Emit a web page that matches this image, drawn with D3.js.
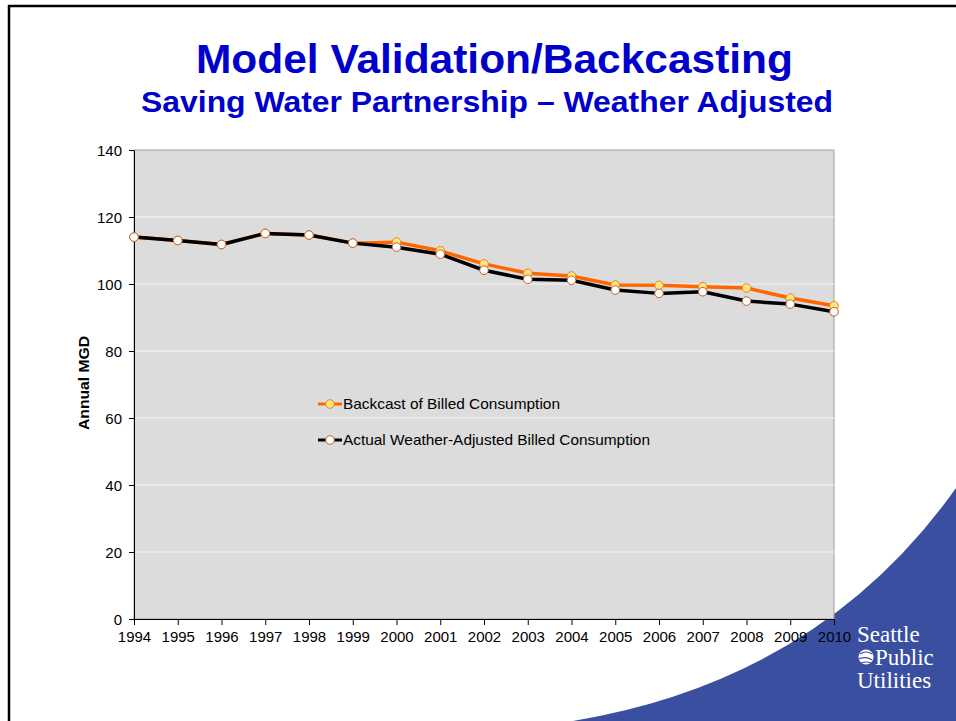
<!DOCTYPE html>
<html>
<head>
<meta charset="utf-8">
<style>
  body { margin: 0; background: #fff; }
  svg { display: block; }
</style>
</head>
<body>
<svg id="slide" width="956" height="721"></svg>

<script src="https://d3js.org/d3.v7.min.js"></script>
<script>
    var years = [1994, 1995, 1996, 1997, 1998, 1999, 2000, 2001, 2002, 2003, 2004, 2005, 2006, 2007, 2008, 2009, 2010]
    var backcast = [114.0, 113.0, 111.8, 115.1, 114.6, 112.2, 112.5, 109.9, 106.0, 103.2, 102.4, 99.7, 99.6, 99.2, 98.8, 95.8, 93.5]
    var actual = [114.0, 113.0, 111.8, 115.1, 114.6, 112.2, 111.0, 108.9, 104.1, 101.4, 101.1, 98.2, 97.2, 97.7, 94.9, 94.0, 91.7]
    var yTicks = [0, 20, 40, 60, 80, 100, 120, 140]
    var seriesNames = ["Backcast of Billed Consumption", "Actual Weather-Adjusted Billed Consumption"]

    var svg = d3.select("#slide")
    var plotLeft = 134, plotRight = 834, plotTop = 150, plotBottom = 619
    var font = "Arial, 'Liberation Sans', sans-serif"

    // slide frame and the blue swoosh
    svg.append("path")
        .attr("d", "M9,721 L9,6 L956,6")
        .attr("fill", "none").attr("stroke", "#000").attr("stroke-width", 2.5)

    svg.append("path")
        .attr("d", "M573,721 Q820,680 956,488 L956,721 Z")
        .attr("fill", "#3a4fa0")

    var logo = svg.append("g").attr("fill", "#fff")
        .style("font-family", "'Liberation Serif', 'DejaVu Serif', serif").style("font-size", "23px")
    logo.append("text").attr("x", 857).attr("y", 642).text("Seattle")
    logo.append("circle").attr("cx", 866).attr("cy", 657).attr("r", 7.5)
    logo.append("path").attr("d", "M860,654 q6,-4 12,0 M859,659 q7,-3 13,1 M861,663 q5,-2 10,0")
        .attr("stroke", "#3a4fa0").attr("fill", "none").attr("stroke-width", 1.2)
    logo.append("text").attr("x", 875).attr("y", 665).text("Public")
    logo.append("text").attr("x", 857).attr("y", 688).text("Utilities")

    // titles
    svg.append("text").attr("x", 196).attr("y", 73)
        .attr("textLength", 597).attr("lengthAdjust", "spacingAndGlyphs")
        .style("font-family", font).style("font-weight", "bold")
        .style("font-size", "41px").attr("fill", "#0000cc")
        .text("Model Validation/Backcasting")
    svg.append("text").attr("x", 141).attr("y", 112)
        .attr("textLength", 692).attr("lengthAdjust", "spacingAndGlyphs")
        .style("font-family", font).style("font-weight", "bold")
        .style("font-size", "30px").attr("fill", "#0000cc")
        .text("Saving Water Partnership \u2013 Weather Adjusted")

    var x = d3.scaleLinear().domain([1994, 2010]).range([plotLeft, plotRight])
    var y = d3.scaleLinear().domain([0, 140]).range([plotBottom, plotTop])

    svg.append("rect").attr("x", plotLeft).attr("y", plotTop)
        .attr("width", plotRight - plotLeft).attr("height", plotBottom - plotTop)
        .attr("fill", "#dcdcdc").attr("stroke", "#a0a0a0")

    svg.selectAll(".grid").data(yTicks.slice(1, -1)).enter().append("line")
        .attr("x1", plotLeft).attr("x2", plotRight)
        .attr("y1", function(d) { return y(d) }).attr("y2", function(d) { return y(d) })
        .attr("stroke", "#f4f4f4").attr("stroke-width", 1.2)

    var yAxis = svg.append("g").attr("transform", "translate(" + plotLeft + ",0)")
        .call(d3.axisLeft(y).tickValues(yTicks).tickSize(5).tickSizeOuter(0).tickPadding(7))
    var xAxis = svg.append("g").attr("transform", "translate(0," + plotBottom + ")")
        .call(d3.axisBottom(x).tickValues(years).tickFormat(d3.format("d")).tickSize(6).tickSizeOuter(0).tickPadding(6))

    svg.selectAll(".tick text")
        .style("font-family", font).style("font-size", "15px").attr("fill", "#000")
    svg.selectAll(".domain, .tick line").attr("stroke", "#000")
    yAxis.selectAll(".tick text").attr("dy", "0.35em")

    svg.append("text")
        .attr("transform", "translate(89,383) rotate(-90)")
        .attr("x", -47).attr("textLength", 94).attr("lengthAdjust", "spacingAndGlyphs")
        .style("font-family", font).style("font-weight", "bold").style("font-size", "14px")
        .text("Annual MGD")

    var line = d3.line()
        .x(function(d, i) { return x(years[i]) })
        .y(function(d) { return y(d) })

    var series = [
        { values: backcast, color: "#ff6600", fill: "#ffe680", stroke: "#f08020", width: 217 },
        { values: actual, color: "#000", fill: "#fff", stroke: "#c0602a", width: 307 }
    ]

    series.forEach(function(s) {
        svg.append("path").datum(s.values)
            .attr("d", line).attr("fill", "none")
            .attr("stroke", s.color).attr("stroke-width", 3.5).attr("stroke-linejoin", "round")
    })
    series.forEach(function(s) {
        svg.selectAll(null).data(s.values).enter().append("circle")
            .attr("cx", function(d, i) { return x(years[i]) })
            .attr("cy", function(d) { return y(d) })
            .attr("r", 4.3)
            .attr("fill", s.fill).attr("stroke", s.stroke).attr("stroke-width", 1)
    })

    // legend
    var legend = svg.selectAll(".legend").data(series).enter().append("g")
        .attr("transform", function(d, i) { return "translate(318," + (404 + i * 36) + ")" })
    legend.append("line").attr("x1", 0).attr("x2", 24)
        .attr("stroke", function(d) { return d.color }).attr("stroke-width", 3)
    legend.append("circle").attr("cx", 12).attr("r", 4.3)
        .attr("fill", function(d) { return d.fill }).attr("stroke", function(d) { return d.stroke })
    legend.append("text").attr("x", 25).attr("dy", "0.35em")
        .attr("textLength", function(d) { return d.width }).attr("lengthAdjust", "spacingAndGlyphs")
        .style("font-family", font).style("font-size", "15px")
        .text(function(d, i) { return seriesNames[i] })
</script>
</body>
</html>
